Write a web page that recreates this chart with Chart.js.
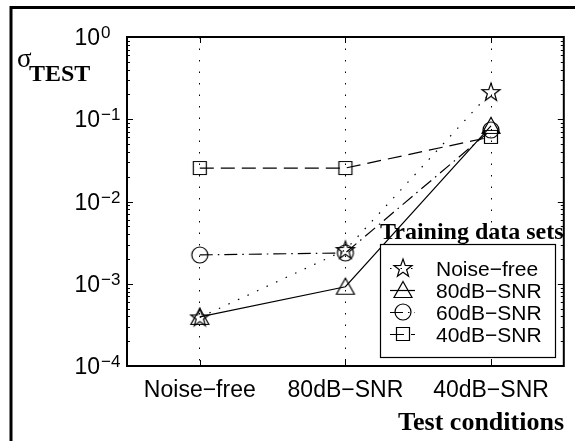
<!DOCTYPE html>
<html>
<head>
<meta charset="utf-8">
<script src="https://cdn.jsdelivr.net/npm/chart.js@4.4.0/dist/chart.umd.min.js"></script>
<style>
  html, body { margin:0; padding:0; background:#fff; }
  #wrap { width:575px; height:441px; }
</style>
</head>
<body>
<div id="wrap"><canvas id="c" width="575" height="441"></canvas></div>
<script>
// test conditions (x axis) and training sets (series)
const categories = ['Noise\u2212free', '80dB\u2212SNR', '40dB\u2212SNR'];
const seriesNames = ['Noise\u2212free', '80dB\u2212SNR', '60dB\u2212SNR', '40dB\u2212SNR'];
const trainNoiseFree = [0.00039, 0.00257, 0.214];
const train80dB      = [0.000395, 0.00092, 0.083];
const train60dB      = [0.00224, 0.00237, 0.074];
const train40dB      = [0.0255, 0.0255, 0.061];
const yTickExps = [0, -1, -2, -3, -4];

// hollow MATLAB-ish markers as small canvases
function marker(kind) {
  const cv = document.createElement('canvas');
  cv.width = 24; cv.height = 24;
  const g = cv.getContext('2d');
  g.strokeStyle = '#000'; g.lineWidth = 1.2;
  g.beginPath();
  if (kind === 'star') {
    for (let i = 0; i < 10; i++) {
      const r = i % 2 ? 3.8 : 9.5;
      const a = -Math.PI / 2 + i * Math.PI / 5;
      const px = 12 + r * Math.cos(a), py = 12.5 + r * Math.sin(a);
      i ? g.lineTo(px, py) : g.moveTo(px, py);
    }
    g.closePath();
  } else if (kind === 'tri') {
    g.moveTo(12, 3.5); g.lineTo(21, 19.5); g.lineTo(3, 19.5); g.closePath();
  } else if (kind === 'circ') {
    g.arc(12, 12, 8, 0, Math.PI * 2);
  } else {
    g.rect(5.5, 5.5, 13, 13);
  }
  g.stroke();
  return cv;
}
const mStar = marker('star'), mTri = marker('tri'), mCirc = marker('circ'), mSq = marker('sq');

const styles = [
  { m: mStar, dash: [1.5, 9] },
  { m: mTri,  dash: [] },
  { m: mCirc, dash: [13, 5, 1.5, 5] },
  { m: mSq,   dash: [14, 7] }
];
const seriesData = [trainNoiseFree, train80dB, train60dB, train40dB];

const datasets = seriesData.map((d, i) => ({
  label: seriesNames[i],
  data: d,
  borderColor: '#000',
  borderWidth: 1.2,
  borderDash: styles[i].dash,
  pointStyle: styles[i].m,
  pointRadius: 10,
  pointHoverRadius: 10,
  backgroundColor: 'transparent',
  fill: false,
  tension: 0
}));

const decor = {
  id: 'decor',
  afterDraw(chart) {
    const ctx = chart.ctx;
    const a = chart.chartArea;
    const xs = chart.scales.x, ys = chart.scales.y;
    ctx.save();
    ctx.strokeStyle = '#000';
    ctx.fillStyle = '#000';

    // figure frame
    ctx.lineWidth = 3;
    ctx.beginPath();
    ctx.moveTo(11, 460); ctx.lineTo(11, 7.5); ctx.lineTo(600, 7.5);
    ctx.stroke();

    // axes box
    ctx.lineWidth = 2;
    ctx.strokeRect(a.left, a.top, a.right - a.left, a.bottom - a.top);

    // inward ticks
    ctx.lineWidth = 1;
    ctx.beginPath();
    for (let e = -4; e <= 0; e++) {
      const y = Math.round(ys.getPixelForValue(Math.pow(10, e))) + 0.5;
      ctx.moveTo(a.left, y); ctx.lineTo(a.left + 6, y);
      ctx.moveTo(a.right, y); ctx.lineTo(a.right - 6, y);
      if (e < 0) {
        for (let k = 2; k <= 9; k++) {
          const ym = Math.round(ys.getPixelForValue(k * Math.pow(10, e))) + 0.5;
          ctx.moveTo(a.left, ym); ctx.lineTo(a.left + 3, ym);
          ctx.moveTo(a.right, ym); ctx.lineTo(a.right - 3, ym);
        }
      }
    }
    categories.forEach((c, i) => {
      const x = Math.round(xs.getPixelForValue(i)) + 0.5;
      ctx.moveTo(x, a.bottom); ctx.lineTo(x, a.bottom - 6);
      ctx.moveTo(x, a.top); ctx.lineTo(x, a.top + 6);
    });
    ctx.stroke();

    // y tick labels 10^n
    yTickExps.forEach(e => {
      const y = ys.getPixelForValue(Math.pow(10, e));
      ctx.font = '23px "Liberation Sans", Arial, sans-serif';
      ctx.textAlign = 'right'; ctx.textBaseline = 'alphabetic';
      ctx.fillText('10', 100, y + 8);
      ctx.font = '17px "Liberation Sans", Arial, sans-serif';
      ctx.textAlign = 'left';
      ctx.fillText(e === 0 ? '0' : '\u2212' + (-e), 101, y + 1);
    });

    // category labels
    ctx.font = '23px "Liberation Sans", Arial, sans-serif';
    ctx.textAlign = 'center';
    categories.forEach((c, i) => ctx.fillText(c, xs.getPixelForValue(i), 397));

    // axis titles
    ctx.font = 'bold 26px "Liberation Serif", "Times New Roman", serif';
    ctx.textAlign = 'right';
    ctx.fillText('Test conditions', 564, 430);
    ctx.textAlign = 'left';
    ctx.font = '27px "Liberation Serif", "Times New Roman", serif';
    ctx.fillText('\u03c3', 17, 67);
    ctx.font = 'bold 24px "Liberation Serif", "Times New Roman", serif';
    ctx.fillText('TEST', 29, 81);

    // legend
    ctx.fillText('Training data sets', 380, 239);
    ctx.fillStyle = '#fff';
    ctx.fillRect(380, 244, 176, 114);
    ctx.lineWidth = 1.2;
    ctx.strokeRect(380.5, 244.5, 175, 113);
    ctx.fillStyle = '#000';
    ctx.font = '21px "Liberation Sans", Arial, sans-serif';
    seriesNames.forEach((n, i) => {
      const y = 268 + i * 22;
      ctx.save();
      ctx.lineWidth = 1.2;
      ctx.setLineDash(styles[i].dash);
      ctx.beginPath();
      ctx.moveTo(390, y + 0.5); ctx.lineTo(415, y + 0.5);
      ctx.stroke();
      ctx.restore();
      ctx.drawImage(styles[i].m, 403 - 12, y - 12);
      ctx.fillText(n, 436, y + 8);
    });
    ctx.restore();
  }
};

new Chart(document.getElementById('c'), {
  type: 'line',
  data: { labels: categories, datasets },
  options: {
    responsive: false,
    animation: false,
    layout: { padding: { left: 127, top: 37, right: 8, bottom: 75 } },
    plugins: { legend: { display: false }, title: { display: false }, tooltip: { enabled: false } },
    scales: {
      x: {
        type: 'category',
        offset: true,
        ticks: { display: false },
        grid: { display: true, drawTicks: false, color: '#000', lineWidth: 1, offset: false },
        border: { display: false, dash: [1.5, 10] }
      },
      y: {
        type: 'logarithmic',
        min: 1e-4,
        max: 1,
        display: false
      }
    }
  },
  plugins: [decor]
});
</script>
</body>
</html>
